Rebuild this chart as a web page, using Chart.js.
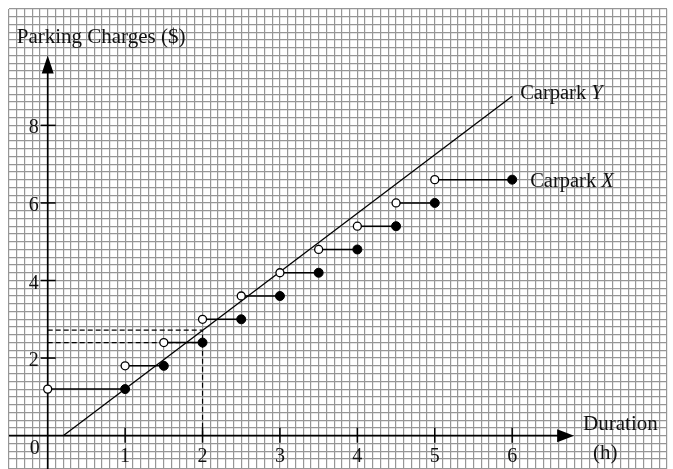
<!DOCTYPE html>
<html lang="en">
<head>
    <meta charset="UTF-8">
    <title>Parking Charges - Carpark X and Y</title>
    <script src="https://cdn.jsdelivr.net/npm/chart.js@4.4.1/dist/chart.umd.min.js"></script>
    <style>
        html, body { margin: 0; padding: 0; background: #fff; }
        #wrap { width: 673px; height: 469px; position: relative; }
    </style>
</head>
<body>
    <div id="wrap"><canvas id="parkingChart"></canvas></div>

    <script>
        // Carpark X: step charges, open circle at start, filled circle at end
        const carparkXStart = [0, 1, 1.5, 2, 2.5, 3, 3.5, 4, 4.5, 5];
        const carparkXEnd = [1, 1.5, 2, 2.5, 3, 3.5, 4, 4.5, 5, 6];
        const carparkXCharge = [1.2, 1.8, 2.4, 3.0, 3.6, 4.2, 4.8, 5.4, 6.0, 6.6];

        // Carpark Y: straight line
        const carparkYDuration = [0.2, 6];
        const carparkYCharge = [0, 8.75];

        // dashed reading lines at 2 hours
        const guideDuration = 2;
        const guideCharges = [2.4, 2.72];

        const xTickValues = [1, 2, 3, 4, 5, 6];
        const yTickValues = [2, 4, 6, 8];

        const xAxisStart = -0.5, xAxisEnd = 6.8;
        const yAxisStart = -0.86, yAxisEnd = 9.8;

        const FONT = '"Liberation Serif", "Times New Roman", serif';

        const stepSets = carparkXStart.map((s, i) => ({
            data: [{ x: s, y: carparkXCharge[i] }, { x: carparkXEnd[i], y: carparkXCharge[i] }],
            showLine: true,
            borderColor: '#000',
            borderWidth: 1.5,
            pointRadius: 0,
            order: 3
        }));

        const guideSets = guideCharges.map(c => ({
            data: [{ x: 0, y: c }, { x: guideDuration, y: c }],
            showLine: true,
            borderColor: '#000',
            borderWidth: 1.2,
            borderDash: [5, 3],
            pointRadius: 0,
            order: 4
        }));
        guideSets.push({
            data: [{ x: guideDuration, y: 0 }, { x: guideDuration, y: Math.max(...guideCharges) }],
            showLine: true,
            borderColor: '#000',
            borderWidth: 1.2,
            borderDash: [5, 3],
            pointRadius: 0,
            order: 4
        });

        const datasets = [
            {
                label: 'Carpark X open',
                data: carparkXStart.map((s, i) => ({ x: s, y: carparkXCharge[i] })),
                pointStyle: 'circle',
                pointRadius: 4,
                pointBackgroundColor: '#fff',
                pointBorderColor: '#000',
                pointBorderWidth: 1.3,
                showLine: false,
                order: 1
            },
            {
                label: 'Carpark X closed',
                data: carparkXEnd.map((e, i) => ({ x: e, y: carparkXCharge[i] })),
                pointStyle: 'circle',
                pointRadius: 4.5,
                pointBackgroundColor: '#000',
                pointBorderColor: '#000',
                pointBorderWidth: 1,
                showLine: false,
                order: 1
            },
            {
                label: 'Carpark Y',
                data: carparkYDuration.map((d, i) => ({ x: d, y: carparkYCharge[i] })),
                showLine: true,
                borderColor: '#000',
                borderWidth: 1.3,
                pointRadius: 0,
                order: 2
            },
            ...stepSets,
            ...guideSets
        ];

        const axesPlugin = {
            id: 'axesPlugin',
            beforeDatasetsDraw(chart) {
                const { ctx, scales: { x, y } } = chart;
                const x0 = x.getPixelForValue(0), y0 = y.getPixelForValue(0);
                ctx.save();
                ctx.strokeStyle = '#000';
                ctx.fillStyle = '#000';
                ctx.lineWidth = 1.7;

                // x axis + arrow
                const xe = x.getPixelForValue(xAxisEnd);
                ctx.beginPath();
                ctx.moveTo(x.getPixelForValue(xAxisStart), y0);
                ctx.lineTo(xe - 10, y0);
                ctx.stroke();
                ctx.beginPath();
                ctx.moveTo(xe, y0);
                ctx.lineTo(xe - 17, y0 - 6.5);
                ctx.lineTo(xe - 17, y0 + 6.5);
                ctx.closePath();
                ctx.fill();

                // y axis + arrow
                const ye = y.getPixelForValue(yAxisEnd);
                ctx.beginPath();
                ctx.moveTo(x0, y.getPixelForValue(yAxisStart));
                ctx.lineTo(x0, ye + 10);
                ctx.stroke();
                ctx.beginPath();
                ctx.moveTo(x0, ye);
                ctx.lineTo(x0 - 6, ye + 18);
                ctx.lineTo(x0 + 6, ye + 18);
                ctx.closePath();
                ctx.fill();

                // tick marks
                ctx.lineWidth = 1.5;
                xTickValues.forEach(v => {
                    const px = x.getPixelForValue(v);
                    ctx.beginPath();
                    ctx.moveTo(px, y0 - 8);
                    ctx.lineTo(px, y0 + 7);
                    ctx.stroke();
                });
                yTickValues.forEach(v => {
                    const py = y.getPixelForValue(v);
                    ctx.beginPath();
                    ctx.moveTo(x0 - 7, py);
                    ctx.lineTo(x0 + 8, py);
                    ctx.stroke();
                });

                // tick labels
                ctx.fillStyle = '#111';
                ctx.font = '20px ' + FONT;
                ctx.textBaseline = 'alphabetic';
                ctx.textAlign = 'center';
                xTickValues.forEach(v => ctx.fillText(String(v), x.getPixelForValue(v), y0 + 26));
                ctx.textAlign = 'right';
                yTickValues.forEach(v => ctx.fillText(String(v), x0 - 9, y.getPixelForValue(v) + 8));
                ctx.textAlign = 'center';
                ctx.fillText('0', x0 - 13, y0 + 18);

                // axis titles
                ctx.textAlign = 'left';
                ctx.font = '21px ' + FONT;
                ctx.fillText('Parking Charges ($)', x0 - 31, 43);
                ctx.fillText('Duration', xe + 9, y0 - 6);
                ctx.fillText('(h)', xe + 19, y0 + 23);

                // series labels
                ctx.font = '20.5px ' + FONT;
                const yEndX = x.getPixelForValue(carparkYDuration[1]);
                const yEndY = y.getPixelForValue(carparkYCharge[1]);
                ctx.fillText('Carpark ', yEndX + 8, yEndY + 3);
                let w = ctx.measureText('Carpark ').width;
                ctx.font = 'italic 20.5px ' + FONT;
                ctx.fillText('Y', yEndX + 8 + w, yEndY + 3);

                ctx.font = '20.5px ' + FONT;
                const last = carparkXEnd.length - 1;
                const xLabX = x.getPixelForValue(carparkXEnd[last]) + 18;
                const xLabY = y.getPixelForValue(carparkXCharge[last]) + 7;
                ctx.fillText('Carpark ', xLabX, xLabY);
                w = ctx.measureText('Carpark ').width;
                ctx.font = 'italic 20.5px ' + FONT;
                ctx.fillText('X', xLabX + w, xLabY);
                ctx.restore();
            }
        };

        const gridColor = 'rgb(150,150,150)';

        new Chart(document.getElementById('parkingChart'), {
            type: 'scatter',
            data: { datasets },
            options: {
                responsive: true,
                maintainAspectRatio: false,
                animation: false,
                // no auto padding: the grid must run to the bottom edge
                layout: { autoPadding: false, padding: { left: 9, top: 9, right: 6, bottom: 0 } },
                plugins: {
                    legend: { display: false },
                    tooltip: { enabled: false }
                },
                scales: {
                    x: {
                        type: 'linear',
                        min: -0.5,
                        max: 8,
                        border: { display: false },
                        grid: { color: gridColor, lineWidth: 1.2, drawTicks: false },
                        ticks: { display: false, stepSize: 0.1, autoSkip: false }
                    },
                    y: {
                        type: 'linear',
                        min: -0.86,
                        max: 11,
                        border: { display: false },
                        grid: { color: gridColor, lineWidth: 1.2, drawTicks: false },
                        ticks: { display: false, stepSize: 0.2, autoSkip: false }
                    }
                }
            },
            plugins: [axesPlugin]
        });
    </script>
</body>
</html>
